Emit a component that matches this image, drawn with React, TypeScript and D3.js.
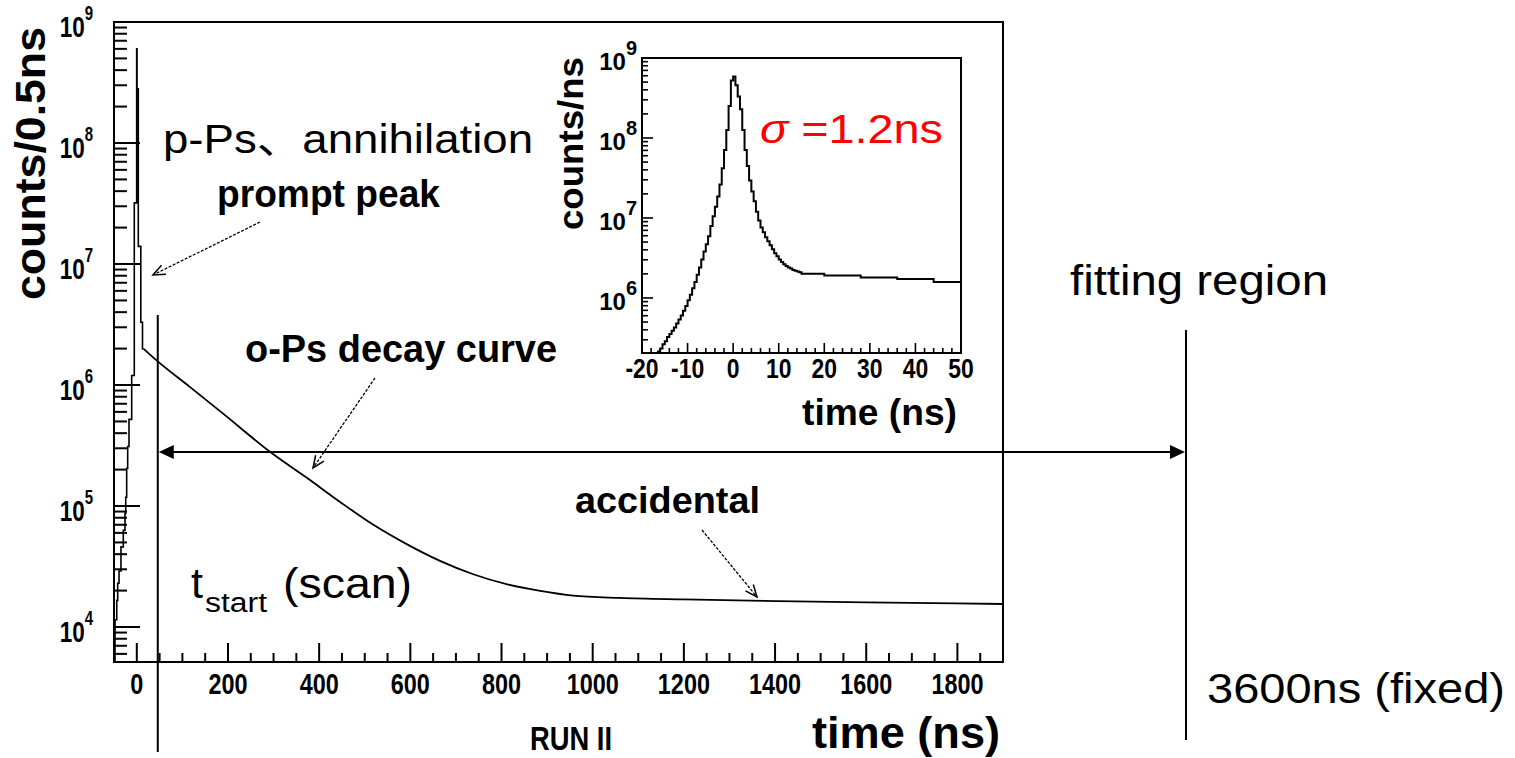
import * as d3 from "d3";
import { useEffect, useRef } from "react";

// main histogram (counts / 0.5 ns), prompt region read as steps
const promptTimes = [-50, -47.8, -44, -41.9, -39, -34.7, -29.6, -25.9, -24.3, -22.2, -20, -17.1, -11.2, -5.5, -0.3, 0.5, 3.3, 8.8, 12.5, 14.3];
const promptCounts = [5.3e3, 1.15e4, 1.66e4, 2.3e4, 2.9e4, 4.6e4, 6.3e4, 8.7e4, 1.18e5, 2.05e5, 3.1e5, 5.2e5, 1.2e6, 3.2e7, 6.0e8, 2.8e8, 1.4e7, 3.3e6, 2.0e6, 2.0e6];

// o-Ps decay + accidental plateau
const decayTimes = [14.3, 44, 117, 190, 298, 373, 446, 519, 592, 665, 738, 811, 885, 957, 1060, 1200, 1400, 1600, 1900];
const decayCounts = [2.0e6, 1.59e6, 9.6e5, 5.77e5, 2.7e5, 1.71e5, 1.08e5, 6.99e4, 4.84e4, 3.52e4, 2.73e4, 2.26e4, 1.99e4, 1.82e4, 1.74e4, 1.69e4, 1.64e4, 1.6e4, 1.55e4];

// inset histogram (counts / ns): 0.5 ns bins from -17 to 15, wider bins in the tail
const insetEdges = d3.range(-17, 15, 0.5).concat([15, 20, 28, 36, 44]);
const insetLastEdge = 50;
const insetCounts = [
	1.91e5, 2.14e5, 2.34e5, 2.63e5, 2.88e5, 3.24e5, 3.55e5, 3.89e5, 4.27e5, 4.79e5,
	5.37e5, 6.03e5, 6.92e5, 7.94e5, 9.33e5, 1.1e6, 1.32e6, 1.58e6, 1.95e6, 2.4e6,
	3.02e6, 3.8e6, 4.68e6, 5.89e6, 7.94e6, 1.05e7, 1.38e7, 1.86e7, 2.63e7, 4.17e7,
	7.08e7, 1.26e8, 2.51e8, 5.25e8,
	5.89e8, 4.57e8, 3.31e8, 2.29e8, 1.26e8, 7.08e7, 4.47e7, 2.95e7, 2.14e7, 1.62e7,
	1.2e7, 9.33e6, 7.59e6, 6.61e6, 5.75e6, 5.13e6, 4.57e6, 4.07e6, 3.63e6, 3.31e6,
	3.02e6, 2.82e6, 2.63e6, 2.51e6, 2.4e6, 2.34e6, 2.24e6, 2.19e6, 2.14e6, 2.09e6,
	2.0e6, 1.91e6, 1.8e6, 1.72e6, 1.58e6
];

const mainXLabels = [0, 200, 400, 600, 800, 1000, 1200, 1400, 1600, 1800];
const mainYExponents = [4, 5, 6, 7, 8, 9];
const insetXLabels = [-20, -10, 0, 10, 20, 30, 40, 50];
const insetYExponents = [6, 7, 8, 9];

const W = 1515;
const H = 758;
const FONT = "'Liberation Sans', Arial, Helvetica, 'Noto Sans CJK JP', sans-serif";

// text placed through a transform so it can be squeezed horizontally like the ROOT output
const addText = (g, o) => {
	const sx = o.sx || 1;
	const t = g
		.append("text")
		.attr("transform", o.rotate
			? `translate(${o.x},${o.y}) rotate(${o.rotate})`
			: `translate(${o.x},${o.y}) scale(${sx},1)`)
		.attr("font-family", FONT)
		.attr("font-size", o.size)
		.attr("font-weight", o.bold ? "bold" : "normal")
		.attr("text-anchor", o.anchor || "start")
		.attr("fill", o.fill || "#000");
	if (o.len) t.attr("textLength", o.len).attr("lengthAdjust", "spacingAndGlyphs");
	if (o.text) t.text(o.text);
	return t;
};

const powerLabel = (g, o) => {
	const t = addText(g, o);
	t.append("tspan").text("10");
	t.append("tspan").attr("font-size", o.supSize).attr("dy", o.supDy).text(String(o.exp));
};

const openArrow = (g, x1, y1, x2, y2) => {
	g.append("line")
		.attr("x1", x1).attr("y1", y1).attr("x2", x2).attr("y2", y2)
		.attr("stroke", "#000").attr("stroke-width", 1.3)
		.attr("stroke-dasharray", "3,1.5");
	const a = Math.atan2(y1 - y2, x1 - x2);
	const len = 13;
	const spread = 0.4;
	const p = [a - spread, a + spread].map(b => [x2 + len * Math.cos(b), y2 + len * Math.sin(b)]);
	g.append("path")
		.attr("d", `M${p[0][0]},${p[0][1]} L${x2},${y2} L${p[1][0]},${p[1][1]}`)
		.attr("fill", "none").attr("stroke", "#000").attr("stroke-width", 1.5);
};

const isDecade = v => Math.abs(Math.log10(v) - Math.round(Math.log10(v))) < 1e-9;

const drawFrame = (g, box, x, y, xTicks, xMajor, tick) => {
	const yTicks = y.ticks().filter(v => v >= y.domain()[0] && v <= y.domain()[1]);
	yTicks.forEach(v => {
		const len = isDecade(v) ? tick.yMajor : tick.yMinor;
		g.append("line")
			.attr("x1", box.left).attr("x2", box.left + len)
			.attr("y1", y(v)).attr("y2", y(v))
			.attr("stroke", "#000").attr("stroke-width", tick.w);
	});
	xTicks.forEach(v => {
		const len = xMajor(v) ? tick.xMajor : tick.xMinor;
		g.append("line")
			.attr("x1", x(v)).attr("x2", x(v))
			.attr("y1", box.bottom).attr("y2", box.bottom - len)
			.attr("stroke", "#000").attr("stroke-width", tick.w);
	});
	g.append("rect")
		.attr("x", box.left).attr("y", box.top)
		.attr("width", box.right - box.left).attr("height", box.bottom - box.top)
		.attr("fill", "none").attr("stroke", "#000").attr("stroke-width", tick.frame);
};

const createGraph = svgEl => {
	const svg = d3.select(svgEl);
	svg.selectAll("*").remove();
	svg.append("rect").attr("width", W).attr("height", H).attr("fill", "#fff");

	// ---------- main plot ----------
	const box = { left: 114, right: 1003, top: 22, bottom: 662 };
	const x = d3.scaleLinear().domain([-50, 1900]).range([box.left, box.right]);
	const y = d3.scaleLog().domain([5140, 1e9]).range([box.bottom, box.top]);

	const defs = svg.append("defs");
	defs.append("clipPath").attr("id", "clip-main").append("rect")
		.attr("x", box.left).attr("y", box.top)
		.attr("width", box.right - box.left).attr("height", box.bottom - box.top);

	const main = svg.append("g");
	const curves = main.append("g").attr("clip-path", "url(#clip-main)");

	const stepLine = d3.line().x(d => x(d[0])).y(d => y(d[1])).curve(d3.curveStepAfter);
	curves.append("path")
		.attr("d", stepLine(promptTimes.map((t, i) => [t, promptCounts[i]])))
		.attr("fill", "none").attr("stroke", "#000").attr("stroke-width", 1.6);

	const smoothLine = d3.line().x(d => x(d[0])).y(d => y(d[1])).curve(d3.curveMonotoneX);
	curves.append("path")
		.attr("d", smoothLine(decayTimes.map((t, i) => [t, decayCounts[i]])))
		.attr("fill", "none").attr("stroke", "#000").attr("stroke-width", 1.8);

	drawFrame(main, box, x, y, d3.range(-50, 1901, 50), v => v % 200 === 0,
		{ yMajor: 26, yMinor: 13, xMajor: 19, xMinor: 9, w: 2, frame: 2 });

	mainXLabels.forEach(v => {
		addText(main, { x: x(v), y: 694, size: 30, bold: true, anchor: "middle", sx: 0.78, text: String(v) });
	});
	mainYExponents.forEach(e => {
		const ty = y(Math.pow(10, e));
		powerLabel(main, { x: 93, y: ty + 15, size: 30, bold: true, anchor: "end", sx: 0.75, exp: e, supSize: 20, supDy: -17 });
	});
	addText(main, { x: 45, y: 300, rotate: -90, size: 42, bold: true, len: 273, text: "counts/0.5ns" });
	addText(main, { x: 812, y: 748, size: 45, bold: true, len: 188, text: "time (ns)" });
	addText(main, { x: 530, y: 750, size: 34, bold: true, len: 82, text: "RUN II" });

	// ---------- inset ----------
	const ibox = { left: 642, right: 961, top: 58, bottom: 353 };
	const ix = d3.scaleLinear().domain([-20, 50]).range([ibox.left, ibox.right]);
	const iy = d3.scaleLog().domain([2.05e5, 1e9]).range([ibox.bottom, ibox.top]);

	defs.append("clipPath").attr("id", "clip-inset").append("rect")
		.attr("x", ibox.left).attr("y", ibox.top)
		.attr("width", ibox.right - ibox.left).attr("height", ibox.bottom - ibox.top);

	const inset = svg.append("g");
	inset.append("rect")
		.attr("x", ibox.left).attr("y", ibox.top)
		.attr("width", ibox.right - ibox.left).attr("height", ibox.bottom - ibox.top)
		.attr("fill", "#fff");

	const insetLine = d3.line().x(d => ix(d[0])).y(d => iy(d[1])).curve(d3.curveStepAfter);
	const insetPts = insetEdges.map((t, i) => [t, insetCounts[i]]);
	insetPts.push([insetLastEdge, insetCounts[insetCounts.length - 1]]);
	inset.append("g").attr("clip-path", "url(#clip-inset)")
		.append("path")
		.attr("d", insetLine(insetPts))
		.attr("fill", "none").attr("stroke", "#000").attr("stroke-width", 2);

	drawFrame(inset, ibox, ix, iy, d3.range(-20, 51, 2), v => v % 10 === 0,
		{ yMajor: 11, yMinor: 6, xMajor: 10, xMinor: 5, w: 1.6, frame: 2 });

	insetXLabels.forEach(v => {
		addText(inset, { x: ix(v), y: 378, size: 27, bold: true, anchor: "middle", sx: 0.85, text: String(v) });
	});
	insetYExponents.forEach(e => {
		const ty = iy(Math.pow(10, e));
		powerLabel(inset, { x: 637, y: ty + 12, size: 24, bold: true, anchor: "end", sx: 1, exp: e, supSize: 20, supDy: -15 });
	});
	addText(inset, { x: 583, y: 230, rotate: -90, size: 35, bold: true, len: 173, text: "counts/ns" });
	addText(inset, { x: 802, y: 425, size: 36, bold: true, len: 155, text: "time (ns)" });

	const sigma = addText(inset, { x: 760, y: 143, size: 40, fill: "#ff0000", len: 183 });
	sigma.append("tspan").attr("font-style", "italic").text("σ");
	sigma.append("tspan").text(" =1.2ns");

	// ---------- annotations ----------
	const notes = svg.append("g");
	addText(notes, { x: 163, y: 153, size: 40, len: 370, text: "p-Ps、annihilation" });
	addText(notes, { x: 217, y: 207, size: 38, bold: true, len: 223, text: "prompt peak" });
	addText(notes, { x: 245, y: 362, size: 38, bold: true, len: 312, text: "o-Ps decay curve" });
	addText(notes, { x: 575, y: 513, size: 37, bold: true, len: 185, text: "accidental" });
	openArrow(notes, 260, 222, 153, 275);
	openArrow(notes, 375, 378, 313, 468);
	openArrow(notes, 702, 530, 757, 597);

	addText(notes, { x: 191, y: 598, size: 43, text: "t" });
	addText(notes, { x: 205, y: 612, size: 27, len: 62, text: "start" });
	addText(notes, { x: 283, y: 598, size: 43, len: 129, text: "(scan)" });

	const tStart = x(46);
	const tEnd = 1186;
	const arrowY = 452;
	notes.append("line").attr("x1", tStart).attr("x2", tStart).attr("y1", 315).attr("y2", 752)
		.attr("stroke", "#000").attr("stroke-width", 2);
	notes.append("line").attr("x1", tEnd).attr("x2", tEnd).attr("y1", 330).attr("y2", 740)
		.attr("stroke", "#000").attr("stroke-width", 2);
	notes.append("line").attr("x1", tStart + 10).attr("x2", tEnd - 10).attr("y1", arrowY).attr("y2", arrowY)
		.attr("stroke", "#000").attr("stroke-width", 2);
	notes.append("path")
		.attr("d", `M${tStart + 1},${arrowY} L${tStart + 16},${arrowY - 7} L${tStart + 16},${arrowY + 7} Z`)
		.attr("fill", "#000");
	notes.append("path")
		.attr("d", `M${tEnd - 1},${arrowY} L${tEnd - 16},${arrowY - 7} L${tEnd - 16},${arrowY + 7} Z`)
		.attr("fill", "#000");

	addText(notes, { x: 1070, y: 295, size: 43, len: 258, text: "fitting region" });
	addText(notes, { x: 1207, y: 703, size: 43, len: 298, text: "3600ns (fixed)" });
};

export default function App() {
	const ref = useRef(null);

	useEffect(() => {
		createGraph(ref.current);
	}, []);

	return (
		<svg
			ref={ref}
			width={W}
			height={H}
			style={{ position: "absolute", left: 0, top: 0, display: "block" }}
		/>
	);
}
